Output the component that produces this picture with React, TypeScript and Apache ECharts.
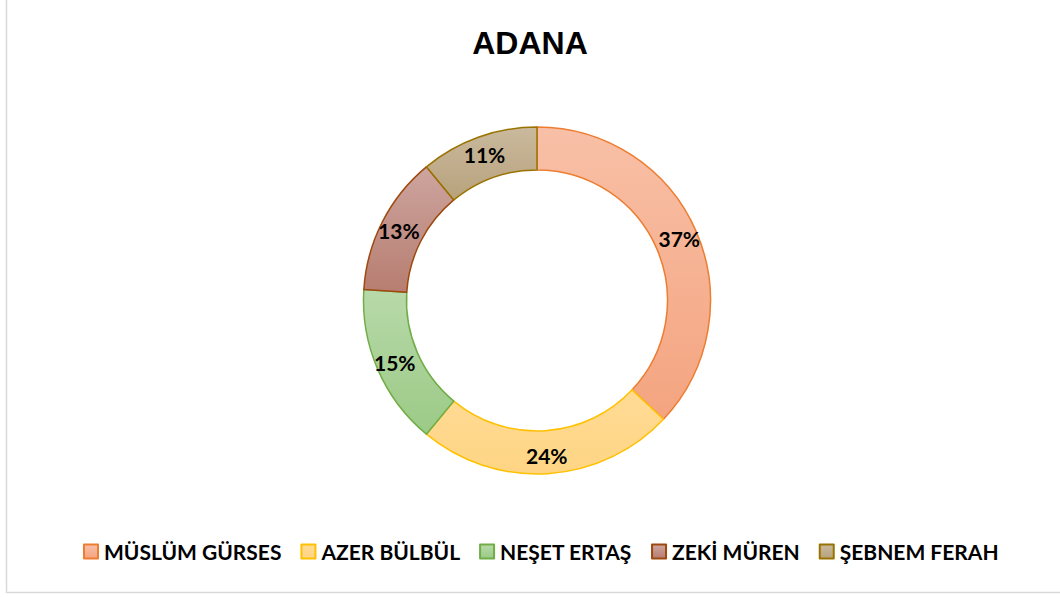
import React, { useEffect, useRef } from "react";
import * as echarts from "echarts";

const TITLE = "ADANA";
const CATEGORIES = ["MÜSLÜM GÜRSES", "AZER BÜLBÜL", "NEŞET ERTAŞ", "ZEKİ MÜREN", "ŞEBNEM FERAH"];
const VALUES = [37, 24, 15, 13, 11];
const TOP_COLORS = ["#F8C0A7", "#FFDB95", "#B8D9A9", "#CDA59F", "#CAB99D"];
const BOTTOM_COLORS = ["#F4A47F", "#FFD584", "#9BCA86", "#B77D70", "#B8A27D"];
const BORDER_COLORS = ["#ED7D31", "#FFC000", "#70AD47", "#9E480E", "#997300"];

export default function App() {
  const ref = useRef<HTMLDivElement>(null);
  useEffect(() => {
    if (!ref.current) return;
    const chart = echarts.init(ref.current, null, { renderer: "svg" });
    const grad = (i: number) =>
      new echarts.graphic.LinearGradient(0, 0, 0, 1, [
        { offset: 0, color: TOP_COLORS[i] },
        { offset: 1, color: BOTTOM_COLORS[i] },
      ]);
    chart.setOption({
      animation: false,
      backgroundColor: "#ffffff",
      title: {
        text: TITLE,
        left: "center",
        top: 22,
        textStyle: {
          fontFamily: "Liberation Sans",
          fontWeight: "bold",
          fontSize: 32,
          color: "#000000",
        },
      },
      legend: {
        bottom: 30,
        left: 78,
        icon: "rect",
        itemWidth: 14,
        itemHeight: 14,
        itemGap: 19,
        textStyle: {
          fontFamily: "Lato",
          fontWeight: "bold",
          fontSize: 21,
          color: "#000000",
          padding: [0, 0, 0, 1],
        },
        data: CATEGORIES.map((name, i) => ({
          name,
          itemStyle: { color: grad(i), borderColor: BORDER_COLORS[i], borderWidth: 2 },
        })),
      },
      graphic: [
        {
          type: "rect",
          shape: { x: 6.5, y: -10, width: 1100, height: 602.5 },
          style: { fill: "none", stroke: "#D9D9D9", lineWidth: 1.5 },
          silent: true,
        },
      ],
      series: [
        {
          type: "pie",
          center: [537, 300.5],
          radius: [130.5, 173.5],
          startAngle: 90,
          clockwise: true,
          avoidLabelOverlap: false,
          label: {
            show: true,
            position: "inside",
            formatter: "{d}%",
            fontFamily: "Lato",
            fontWeight: "bold",
            fontSize: 21,
            color: "#000000",
          },
          labelLine: { show: false },
          emphasis: { disabled: true },
          data: CATEGORIES.map((name, i) => ({
            name,
            value: VALUES[i],
            itemStyle: { color: grad(i), borderColor: BORDER_COLORS[i], borderWidth: 1.5 },
          })),
        },
      ],
    });
    return () => chart.dispose();
  }, []);
  return (
    <div
      ref={ref}
      style={{ position: "fixed", left: 0, top: 0, width: 1060, height: 597 }}
    />
  );
}
